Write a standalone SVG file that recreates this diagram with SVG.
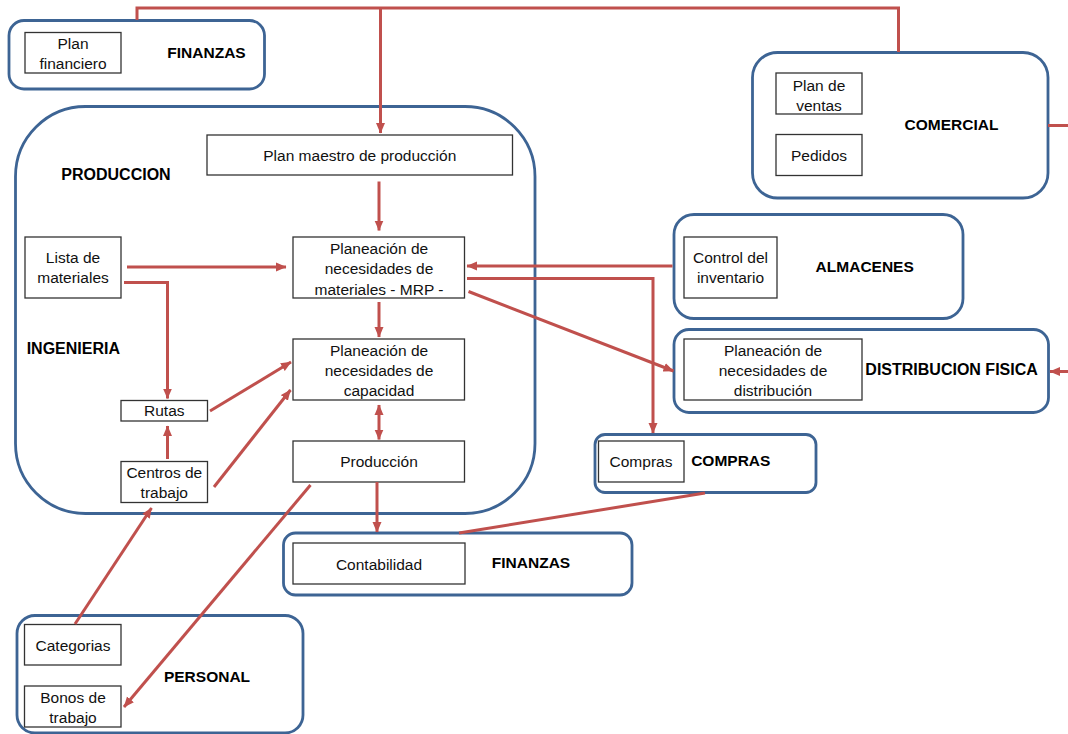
<svg xmlns="http://www.w3.org/2000/svg" width="1068" height="734" viewBox="0 0 1068 734">
  <defs>
    <marker id="arrow" markerUnits="userSpaceOnUse" markerWidth="11" markerHeight="10" refX="10" refY="5" orient="auto-start-reverse" viewBox="0 0 11 10">
      <path d="M0,0.5 L10.5,5 L0,9.5 z" fill="#C0504D"/>
    </marker>
    <style>
      .area { fill: #FFFFFF; stroke: #3D6494; stroke-width: 2.8; }
      .item { fill: #FFFFFF; stroke: #333333; stroke-width: 1.3; }
      .txt { font-family: "Liberation Sans", Arial, sans-serif; font-size: 15.5px; fill: #111111; text-anchor: middle; }
      .head { font-family: "Liberation Sans", Arial, sans-serif; font-size: 15.5px; font-weight: bold; fill: #000000; text-anchor: middle; }
      .link { fill: none; stroke: #C0504D; stroke-width: 3; }
      .arr { marker-end: url(#arrow); }
      .both { marker-start: url(#arrow); marker-end: url(#arrow); }
    </style>
  </defs>
  <rect width="1068" height="734" fill="#FFFFFF"/>

  <!-- Finanzas (plan financiero) -->
  <g id="finanzas-plan">
    <rect class="area" x="9" y="20.5" width="255.5" height="68.5" rx="15"/>
    <rect class="item" x="25" y="32.5" width="96" height="40.5"/>
    <text class="txt" x="73" y="48.7">Plan</text>
    <text class="txt" x="73" y="68.7">financiero</text>
    <text class="head" x="206.5" y="58">FINANZAS</text>
  </g>

  <!-- Comercial -->
  <g id="comercial">
    <rect class="area" x="752.5" y="52.5" width="295.5" height="145.5" rx="25"/>
    <rect class="item" x="776" y="73" width="86" height="41"/>
    <text class="txt" x="819" y="90.5">Plan de</text>
    <text class="txt" x="819" y="110.5">ventas</text>
    <rect class="item" x="776" y="134.5" width="86" height="41"/>
    <text class="txt" x="819" y="160.5">Pedidos</text>
    <text class="head" x="951.5" y="129.6">COMERCIAL</text>
  </g>

  <!-- Produccion / Ingenieria -->
  <g id="produccion">
    <rect class="area" x="15.5" y="106.5" width="519.5" height="407" rx="70"/>
    <text class="head" x="116" y="179.7" style="font-size:16px">PRODUCCION</text>
    <text class="head" x="73.3" y="354" style="font-size:16px">INGENIERIA</text>
  </g>
  <g id="plan-maestro">
    <rect class="item" x="207" y="135" width="305.5" height="40"/>
    <text class="txt" x="359.8" y="160.5">Plan maestro de producción</text>
  </g>
  <g id="lista-materiales">
    <rect class="item" x="25" y="237" width="96" height="61"/>
    <text class="txt" x="73" y="262.7">Lista de</text>
    <text class="txt" x="73" y="283">materiales</text>
  </g>
  <g id="mrp">
    <rect class="item" x="293" y="237" width="171.5" height="61"/>
    <text class="txt" x="379" y="253.7">Planeación de</text>
    <text class="txt" x="379" y="274.4">necesidades de</text>
    <text class="txt" x="379" y="294.7">materiales - MRP -</text>
  </g>
  <g id="capacidad">
    <rect class="item" x="293" y="339" width="171.5" height="61"/>
    <text class="txt" x="379" y="356">Planeación de</text>
    <text class="txt" x="379" y="376">necesidades de</text>
    <text class="txt" x="379" y="396">capacidad</text>
  </g>
  <g id="rutas">
    <rect class="item" x="121" y="400.5" width="86.5" height="20.5"/>
    <text class="txt" x="164.3" y="416.4">Rutas</text>
  </g>
  <g id="centros-trabajo">
    <rect class="item" x="121" y="461.5" width="86.5" height="41"/>
    <text class="txt" x="164.3" y="478">Centros de</text>
    <text class="txt" x="164.3" y="498">trabajo</text>
  </g>
  <g id="produccion-item">
    <rect class="item" x="293" y="441" width="171.5" height="41"/>
    <text class="txt" x="379" y="467">Producción</text>
  </g>

  <!-- Almacenes -->
  <g id="almacenes">
    <rect class="area" x="674" y="214.5" width="289" height="104" rx="20"/>
    <rect class="item" x="684" y="237" width="93" height="61"/>
    <text class="txt" x="730.5" y="262.7">Control del</text>
    <text class="txt" x="730.5" y="283.4">inventario</text>
    <text class="head" x="864.7" y="272.3">ALMACENES</text>
  </g>

  <!-- Distribucion fisica -->
  <g id="distribucion">
    <rect class="area" x="674" y="329.5" width="374.5" height="83" rx="15"/>
    <rect class="item" x="684" y="339" width="178" height="61"/>
    <text class="txt" x="773" y="355.5">Planeación de</text>
    <text class="txt" x="773" y="376">necesidades de</text>
    <text class="txt" x="773" y="396">distribución</text>
    <text class="head" x="951.6" y="375" style="font-size:16px">DISTRIBUCION FISICA</text>
  </g>

  <!-- Compras -->
  <g id="compras">
    <rect class="area" x="595" y="434.5" width="221" height="58" rx="10"/>
    <rect class="item" x="598.5" y="441" width="85.5" height="41"/>
    <text class="txt" x="641" y="467">Compras</text>
    <text class="head" x="730.8" y="465.7">COMPRAS</text>
  </g>

  <!-- Finanzas (contabilidad) -->
  <g id="finanzas-contabilidad">
    <rect class="area" x="283.5" y="533" width="348.5" height="62" rx="12"/>
    <rect class="item" x="293" y="543" width="172" height="41"/>
    <text class="txt" x="379" y="569.5">Contabilidad</text>
    <text class="head" x="531" y="568">FINANZAS</text>
  </g>

  <!-- Personal -->
  <g id="personal">
    <rect class="area" x="17" y="615.5" width="286" height="117.5" rx="18"/>
    <rect class="item" x="24.5" y="624.5" width="96.5" height="40.5"/>
    <text class="txt" x="73" y="651">Categorias</text>
    <rect class="item" x="24.5" y="686" width="96.5" height="41"/>
    <text class="txt" x="73" y="702.7">Bonos de</text>
    <text class="txt" x="73" y="722.7">trabajo</text>
    <text class="head" x="207" y="681.5">PERSONAL</text>
  </g>

  <!-- Connectors -->
  <g id="connectors">
    <path class="link" d="M137,20 V8 H898.5 V52"/>
    <path class="link arr" d="M380.5,8 V133"/>
    <path class="link arr" d="M379,181.5 V230.5"/>
    <path class="link arr" d="M127,267 H286"/>
    <path class="link arr" d="M124,282.5 H167.5 V398.5"/>
    <path class="link arr" d="M379,302 V337"/>
    <path class="link arr" d="M210,411 L291,362"/>
    <path class="link arr" d="M214,487 L290.5,390"/>
    <path class="link arr" d="M167.5,459 V426"/>
    <path class="link both" d="M379,405 V439.5"/>
    <path class="link arr" d="M672.5,266 H467"/>
    <path class="link arr" d="M467,278.5 H653 V433"/>
    <path class="link arr" d="M468.5,291.5 L673.5,371"/>
    <path class="link" d="M1048,125.5 H1068"/>
    <path class="link arr" d="M1068,371.5 H1050"/>
    <path class="link arr" d="M377,482 V532"/>
    <path class="link" d="M705,493 L459,533"/>
    <path class="link arr" d="M310.5,485 L124,707"/>
    <path class="link arr" d="M75,624 L151.5,508"/>
  </g>
</svg>
